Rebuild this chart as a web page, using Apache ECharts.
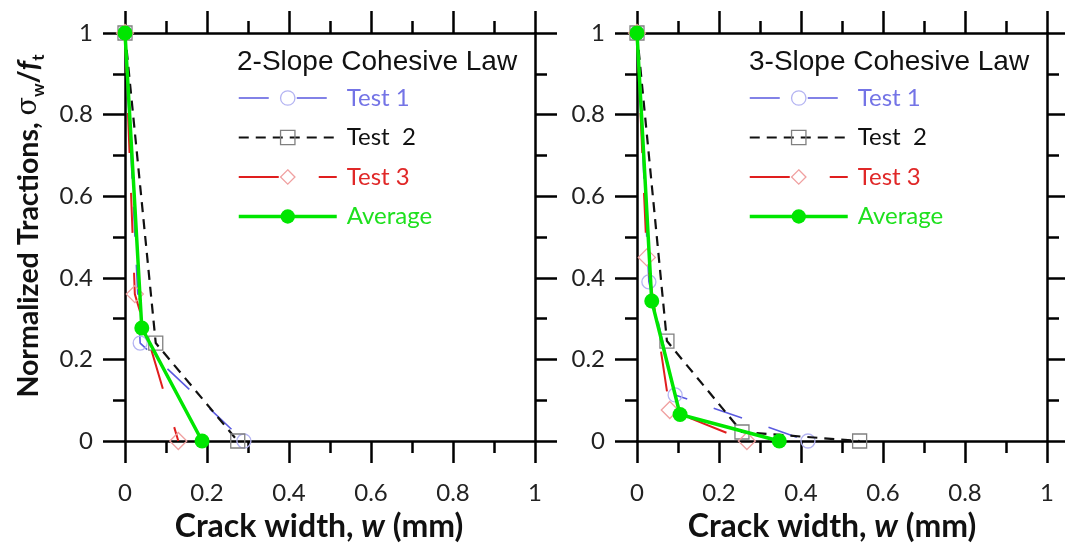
<!DOCTYPE html>
<html>
<head>
<meta charset="utf-8">
<script src="https://cdn.jsdelivr.net/npm/echarts@6/dist/echarts.min.js"></script>
<style>
html,body{margin:0;padding:0;background:#fff;}
#chart{width:1065px;height:546px;}
</style>
</head>
<body>
<div id="chart"></div>
<script>
// ---- data ----
const seriesNames = ['Test 1', 'Test  2', 'Test 3', 'Average'];
const panelTitles = ['2-Slope Cohesive Law', '3-Slope Cohesive Law'];
const xTickValues = [0, 0.2, 0.4, 0.6, 0.8, 1];
const yTickValues = [0, 0.2, 0.4, 0.6, 0.8, 1];

// 2-slope panel  [crack width (mm), normalized traction]
const test1_2s = [[0, 1], [0.037, 0.24], [0.29, 0]];
const test2_2s = [[0, 1], [0.075, 0.24], [0.275, 0]];
const test3_2s = [[0, 1], [0.024, 0.36], [0.13, 0]];
const avg_2s   = [[0, 1], [0.041, 0.277], [0.188, 0]];

// 3-slope panel
const test1_3s = [[0, 1], [0.029, 0.39], [0.093, 0.113], [0.417, 0]];
const test2_3s = [[0, 1], [0.073, 0.245], [0.256, 0.022], [0.543, 0]];
const test3_3s = [[0, 1], [0.024, 0.45], [0.08, 0.076], [0.268, 0]];
const avg_3s   = [[0, 1], [0.036, 0.343], [0.105, 0.065], [0.347, 0]];

const panelData = [
  [test1_2s, test2_2s, test3_2s, avg_2s],
  [test1_3s, test2_3s, test3_3s, avg_3s]
];

// ---- styles ----
const styles = [
  { line: { color: '#5a5ae0', width: 1.6, type: [30, 28] }, symbol: 'circle', size: 14,
    item: { color: 'rgba(255,255,255,0)', borderColor: '#b4b4f2', borderWidth: 1.3 }, text: '#7474e6' },
  { line: { color: '#111', width: 2.2, type: [10, 7] }, symbol: 'rect', size: 14,
    item: { color: 'rgba(255,255,255,0)', borderColor: '#808080', borderWidth: 1.3 }, text: '#111' },
  { line: { color: '#e01e1e', width: 2, type: [40, 40] }, symbol: 'diamond', size: 17,
    item: { color: 'rgba(255,255,255,0)', borderColor: '#f0a0a0', borderWidth: 1.3 }, text: '#e02828' },
  { line: { color: '#00e600', width: 3.5, type: 'solid' }, symbol: 'circle', size: 15,
    item: { color: '#00e600', borderColor: '#00e600', borderWidth: 0 }, text: '#1ee01e' }
];

const grids = [
  { left: 125, top: 33, width: 410, height: 408 },
  { left: 637, top: 33, width: 410, height: 408 }
];

const lineW = 2.5;
const tickFont = { fontFamily: 'Lato', fontSize: 24, color: '#222' };

function axis(gridIndex, position, showLabel, isX) {
  return {
    type: 'value', gridIndex: gridIndex, position: position,
    min: 0, max: 1, interval: 0.2,
    axisLine: { show: true, onZero: false, lineStyle: { color: '#000', width: lineW } },
    axisTick: { show: true, inside: false, length: 22, lineStyle: { color: '#000', width: lineW } },
    minorTick: { show: true, splitNumber: 2, length: 12, lineStyle: { color: '#000', width: lineW } },
    splitLine: { show: false },
    minorSplitLine: { show: false },
    axisLabel: Object.assign({ show: showLabel, margin: isX ? 40 : 32,
      formatter: function (v) { return String(+v.toFixed(1)); } }, tickFont)
  };
}

const xAxes = [], yAxes = [];
for (let g = 0; g < 2; g++) {
  xAxes.push(axis(g, 'bottom', true, true));
  xAxes.push(axis(g, 'top', false, true));
  yAxes.push(axis(g, 'left', true, false));
  yAxes.push(axis(g, 'right', false, false));
}

const series = [];
for (let g = 0; g < 2; g++) {
  for (let s = 0; s < 4; s++) {
    const st = styles[s];
    series.push({
      type: 'line', name: seriesNames[s],
      xAxisIndex: g * 2, yAxisIndex: g * 2,
      data: panelData[g][s],
      symbol: st.symbol, symbolSize: st.size, showAllSymbol: true,
      lineStyle: st.line, itemStyle: st.item,
      z: 2 + s, animation: false
    });
  }
}

const legendLefts = [237, 748];
const legends = legendLefts.map(function (l) {
  return {
    left: l, top: 86, orient: 'vertical', padding: 0,
    itemWidth: 98, itemHeight: 18, itemGap: 15.5,
    textStyle: { fontFamily: 'Lato', fontSize: 24, lineHeight: 24, padding: [0, 0, 0, 5] },
    data: seriesNames.map(function (n, i) {
      return {
        name: n,
        textStyle: { color: styles[i].text },
        lineStyle: { width: styles[i].line.width, type: styles[i].line.type, color: styles[i].line.color },
        itemStyle: { borderWidth: styles[i].item.borderWidth }
      };
    })
  };
});

const titles = panelTitles.map(function (t, i) {
  return {
    text: t, left: i === 0 ? 237 : 749, top: 48, padding: 0,
    textStyle: { fontFamily: 'Liberation Sans', fontSize: 28, fontWeight: 'normal', color: '#111' }
  };
});

const titleFont = 'Lato';
const graphics = [
  {
    type: 'text', x: 29, y: 226, rotation: Math.PI / 2,
    style: {
      text: 'Normalized Tractions, {s|σ}{sub|w}/{f|f}{sub|t}',
      fontFamily: titleFont, fontSize: 28.5, fontWeight: 'bold', fill: '#111',
      align: 'center', verticalAlign: 'middle', lineHeight: 36,
      rich: {
        s: { fontFamily: 'DejaVu Serif', fontSize: 27, fontWeight: 'normal', fill: '#111', lineHeight: 36 },
        sub: { fontFamily: titleFont, fontSize: 17, fontWeight: 'bold', fill: '#111', verticalAlign: 'bottom', lineHeight: 17 },
        f: { fontFamily: titleFont, fontSize: 28.5, fontWeight: 'bold', fontStyle: 'italic', fill: '#111', lineHeight: 36 }
      }
    }
  }
];
[319, 832].forEach(function (cx) {
  graphics.push({
    type: 'text', x: cx, y: 527,
    style: {
      text: 'Crack width, {i|w} (mm)',
      fontFamily: titleFont, fontSize: 32, fontWeight: 'bold', fill: '#111',
      align: 'center', verticalAlign: 'middle',
      rich: { i: { fontFamily: titleFont, fontSize: 32, fontWeight: 'bold', fontStyle: 'italic', fill: '#111' } }
    }
  });
});

const chart = echarts.init(document.getElementById('chart'), null, { renderer: 'canvas' });
chart.setOption({
  backgroundColor: '#fff',
  animation: false,
  title: titles,
  legend: legends,
  grid: grids,
  xAxis: xAxes,
  yAxis: yAxes,
  series: series,
  graphic: graphics
});
</script>
</body>
</html>
